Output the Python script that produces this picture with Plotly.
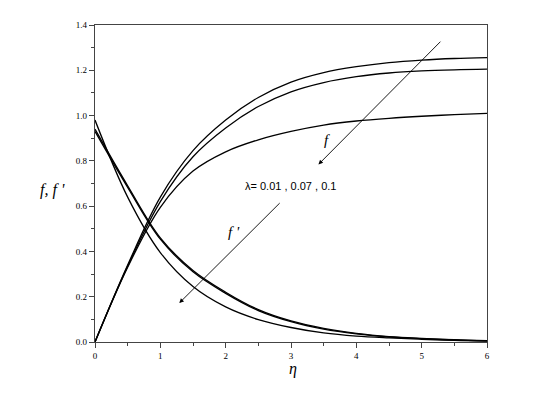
import plotly.graph_objects as go

# eta grid (read every 0.5)
eta = [0, 0.5, 1.0, 1.5, 2.0, 2.5, 3.0, 3.5, 4.0, 4.5, 5.0, 5.5, 6.0]

# f curves
f_a = [0, 0.34, 0.64, 0.845, 0.98, 1.08, 1.148, 1.19, 1.216, 1.234, 1.245, 1.252, 1.256]
f_b = [0, 0.335, 0.62, 0.818, 0.945, 1.04, 1.105, 1.146, 1.172, 1.188, 1.197, 1.202, 1.205]
f_c = [0, 0.33, 0.595, 0.755, 0.84, 0.893, 0.93, 0.958, 0.976, 0.988, 0.997, 1.004, 1.010]

# f' curves
fp_a = [0.94, 0.69, 0.46, 0.316, 0.22, 0.143, 0.093, 0.060, 0.038, 0.024, 0.016, 0.010, 0.006]
fp_b = [0.93, 0.683, 0.454, 0.31, 0.215, 0.139, 0.090, 0.057, 0.036, 0.022, 0.015, 0.009, 0.005]
fp_c = [0.98, 0.64, 0.395, 0.245, 0.155, 0.099, 0.064, 0.040, 0.026, 0.018, 0.012, 0.007, 0.004]

x_ticks = [0, 1, 2, 3, 4, 5, 6]
y_ticks = [0.0, 0.2, 0.4, 0.6, 0.8, 1.0, 1.2, 1.4]

fig = go.Figure()
for ys in [f_a, f_b, f_c, fp_a, fp_b, fp_c]:
    fig.add_trace(go.Scatter(x=eta, y=ys, mode="lines",
                             line=dict(color="black", width=1.3, shape="spline", smoothing=1.0),
                             showlegend=False, hoverinfo="skip"))

tickfont = dict(family="Liberation Serif", size=9, color="black")
fig.update_xaxes(range=[0, 6], tickvals=x_ticks, ticktext=[str(v) for v in x_ticks],
                 showgrid=False, zeroline=False, showline=True, linecolor="#444", linewidth=1.2,
                 mirror=True, ticks="outside", ticklen=5, tickcolor="#444", tickfont=tickfont,
                 minor=dict(ticks="outside", ticklen=3, dtick=0.5, tick0=0, tickcolor="#444"))
fig.update_yaxes(range=[0, 1.4], tickvals=y_ticks, ticktext=[f"{v:.1f}" for v in y_ticks],
                 showgrid=False, zeroline=False, showline=True, linecolor="#444", linewidth=1.2,
                 mirror=True, ticks="outside", ticklen=5, tickcolor="#444", tickfont=tickfont,
                 minor=dict(ticks="outside", ticklen=3, dtick=0.1, tick0=0, tickcolor="#444"))

arrow = dict(showarrow=True, arrowhead=2, arrowsize=1, arrowwidth=0.9, arrowcolor="black",
             axref="x", ayref="y", xref="x", yref="y", text="")
fig.add_annotation(x=3.42, y=0.784, ax=5.31, ay=1.333, **arrow)
fig.add_annotation(x=1.29, y=0.172, ax=2.85, ay=0.62, **arrow)

serif_it = dict(family="Liberation Serif", size=15, color="black")
fig.add_annotation(x=3.55, y=0.894, xref="x", yref="y", text="<i>f</i>", showarrow=False, font=serif_it)
fig.add_annotation(x=2.13, y=0.484, xref="x", yref="y", text="<i>f '</i>", showarrow=False, font=serif_it)
fig.add_annotation(x=2.99, y=0.689, xref="x", yref="y", text="λ= 0.01 , 0.07 , 0.1", showarrow=False,
                   font=dict(family="Liberation Sans", size=11, color="black"))

fig.add_annotation(x=-0.146, y=0.48, xref="paper", yref="paper", text="<i>f, f '</i>",
                   showarrow=False, font=dict(family="Liberation Serif", size=16, color="black"))
fig.add_annotation(x=0.505, y=-0.119, xref="paper", yref="paper", text="<i>η</i>",
                   showarrow=False, font=dict(family="Liberation Serif", size=16, color="black"))

fig.update_layout(width=550, height=400, margin=dict(l=87, r=71, t=15, b=66),
                  paper_bgcolor="white", plot_bgcolor="white", showlegend=False)
fig.write_html("out.html")
